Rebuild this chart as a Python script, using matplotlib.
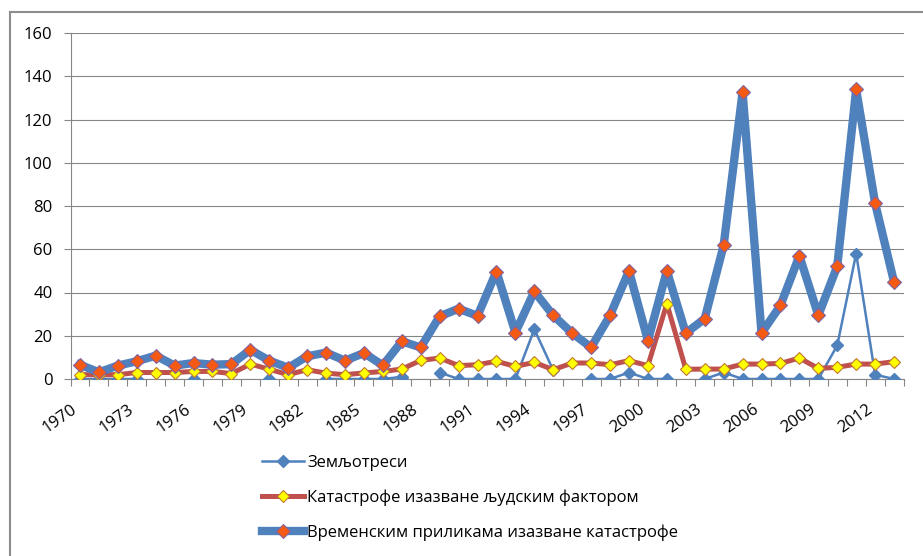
import matplotlib.pyplot as plt
import numpy as np
from matplotlib.lines import Line2D

plt.rcParams['font.family'] = ['Open Sans', 'DejaVu Sans']

# data
years = [1970, 1971, 1972, 1973, 1974, 1975, 1976, 1977, 1978, 1979,
         1980, 1981, 1982, 1983, 1984, 1985, 1986, 1987, 1988, 1989,
         1990, 1991, 1992, 1993, 1994, 1995, 1996, 1997, 1998, 1999,
         2000, 2001, 2002, 2003, 2004, 2005, 2006, 2007, 2008, 2009,
         2010, 2011, 2012, 2013]
nan = np.nan
earthquakes = [0, 0, 0, 0, nan, nan, 0, nan, nan, nan,
               0, nan, nan, 0, 0, 0, 0, 1, nan, 3,
               0, 0, 0, 0, 23, 4, nan, 0, 0, 3,
               0, 0, nan, 0, 3, 0, 0, 0, 0, 0,
               15.5, 58, 2, 0]
human = [2, 2, 2, 3, 3, 3, 3.5, 3.5, 2.5, 6.9,
         4.5, 2, 4.3, 2.7, 2, 2.8, 3.5, 4.6, 8.6, 9.7,
         6.2, 6.6, 8.2, 5.8, 7.7, 4.3, 7.4, 7.4, 6.6, 8.5,
         6.2, 34.8, 4.5, 4.6, 4.6, 6.9, 6.9, 7.2, 9.7, 4.9,
         5.4, 6.9, 6.9, 8]
weather = [6.6, 3.1, 6.2, 8.2, 10.8, 6.2, 7.4, 6.6, 6.9, 13.5,
           8.5, 5.2, 10.5, 12.2, 8.5, 12, 6.3, 17.4, 14.6, 29,
           32.5, 29.2, 49.7, 21.5, 40.5, 29.4, 21.2, 14.6, 29.4, 50,
           17.7, 50, 21.2, 27.9, 61.8, 132.7, 21.2, 34, 57, 29.4,
           52.1, 133.9, 81.3, 44.9]
series_names = ['Земљотреси',
                'Катастрофе изазване људским фактором',
                'Временским приликама изазване катастрофе']

fig = plt.figure(figsize=(9.23, 5.56), dpi=100)
ax = fig.add_axes([70.5 / 923, 1 - 379 / 556, 833 / 923, 346 / 556])

blue = '#4F81BD'
ax.plot(years, earthquakes, color=blue, lw=1.8, marker='D', ms=6.3,
        mfc=blue, mec=blue, label=series_names[0], zorder=3)
ax.plot(years, human, color='#C0504D', lw=3.6, marker='D', ms=6.5,
        mfc='#FFFF00', mec='#C07830', mew=0.8, label=series_names[1], zorder=4)
ax.plot(years, weather, color=blue, lw=6, marker='D', ms=7,
        mfc='#F55A14', mec='#8064A2', mew=0.8, label=series_names[2], zorder=5)

# axes
ax.set_ylim(0, 160)
ax.set_yticks(np.arange(0, 161, 20))
ax.set_xlim(years[0] - 0.5, years[-1] + 0.5)
ax.set_xticks(years[::3])
ax.set_xticklabels([str(y) for y in years[::3]], rotation=35, ha='right', va='top')
ax.set_xticks(np.arange(years[0] - 0.5, years[-1] + 1), minor=True)

ax.tick_params(axis='x', which='major', length=0, pad=16, labelsize=12)
ax.tick_params(axis='x', which='minor', length=5, color='#868686', width=0.8)
ax.tick_params(axis='y', which='major', length=5, color='#868686', width=0.8,
               pad=8, labelsize=12)

ax.yaxis.grid(True, color='#868686', lw=0.8)
ax.set_axisbelow(True)
for s in ['top', 'right']:
    ax.spines[s].set_visible(False)
for s in ['left', 'bottom']:
    ax.spines[s].set_color('#868686')
    ax.spines[s].set_linewidth(0.8)

# legend under the plot
fig.legend(loc='center left', bbox_to_anchor=(262 / 923, 1 - 498 / 556),
           frameon=False, fontsize=12, handlelength=2.5, handletextpad=0.2,
           labelspacing=1.1, borderpad=0, borderaxespad=0)

# chart border
fig.add_artist(Line2D([10 / 923, 10 / 923], [0, 1 - 12 / 556], transform=fig.transFigure,
                      color='#8c8c8c', lw=1.5))
fig.add_artist(Line2D([10 / 923, 1], [1 - 12 / 556, 1 - 12 / 556], transform=fig.transFigure,
                      color='#8c8c8c', lw=1.5))

fig.savefig('out.png', dpi=100)
